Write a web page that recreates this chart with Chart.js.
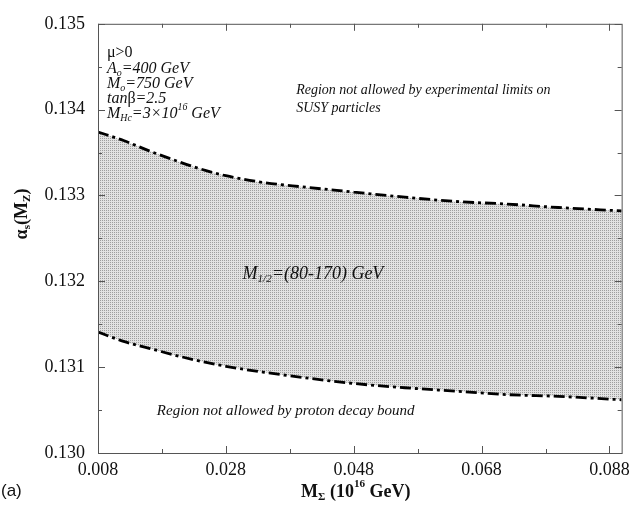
<!DOCTYPE html>
<html>
<head>
<meta charset="utf-8">
<script src="https://cdn.jsdelivr.net/npm/chart.js@4.4.1/dist/chart.umd.min.js"></script>
<style>
  html, body { margin: 0; padding: 0; background: #fff; }
  #c { display: block; }
</style>
</head>
<body>
<canvas id="c" width="636" height="515"></canvas>
<script>
// M_Sigma values (10^16 GeV)
const mSigma = [0.008, 0.012, 0.016, 0.020, 0.024, 0.028, 0.034, 0.040, 0.048, 0.056, 0.064, 0.072, 0.080, 0.0899];
// upper bound (experimental SUSY limits) and lower bound (proton decay)
const alphaUpper = [0.13374, 0.13364, 0.13352, 0.13341, 0.13331, 0.13323, 0.13315, 0.13310, 0.13304, 0.13298, 0.13293, 0.13290, 0.13286, 0.13282];
const alphaLower = [0.13141, 0.13130, 0.13122, 0.13114, 0.13107, 0.13101, 0.13094, 0.13088, 0.13081, 0.13076, 0.13072, 0.13068, 0.13066, 0.13062];

const xTicks = [0.008, 0.028, 0.048, 0.068, 0.088];
const xMinor = [0.018, 0.038, 0.058, 0.078];
const yTicks = [0.130, 0.131, 0.132, 0.133, 0.134, 0.135];
const yMinor = [0.1305, 0.1315, 0.1325, 0.1335, 0.1345];

const SERIF = '"Liberation Serif", "DejaVu Serif", serif';

// dotted grey for the allowed band
const makePattern = () => {
    const p = document.createElement('canvas');
    p.width = 2; p.height = 2;
    const g = p.getContext('2d');
    g.fillStyle = '#e2e2e2';
    g.fillRect(0, 0, 2, 2);
    g.fillStyle = '#9e9e9e';
    g.fillRect(0, 0, 1, 1);
    return document.getElementById('c').getContext('2d').createPattern(p, 'repeat');
};

// text with sub/superscripts: parts = [[text, kind], ...]
const drawRich = (ctx, x, y, parts, size, style) => {
    let cx = x;
    parts.forEach(([t, kind]) => {
        let s = size, dy = 0, st = style;
        if (kind === 'sub') { s = size * 0.62; dy = size * 0.28; }
        if (kind === 'sup') { s = size * 0.62; dy = -size * 0.42; }
        if (kind === 'up') st = 'normal';
        ctx.font = `${st} ${s}px ${SERIF}`;
        ctx.fillText(t, cx, y + dy);
        cx += ctx.measureText(t).width;
    });
    return cx - x;
};

const richWidth = (ctx, parts, size, style) => {
    let w = 0;
    parts.forEach(([t, kind]) => {
        const s = (kind === 'sub' || kind === 'sup') ? size * 0.62 : size;
        ctx.font = `${style} ${s}px ${SERIF}`;
        w += ctx.measureText(t).width;
    });
    return w;
};

// annotations, anchored in data coordinates
const notes = [
    { x: 0.0094, y: 0.13466, size: 16, style: 'normal', parts: [['μ>0', '']] },
    { x: 0.0094, y: 0.13448, size: 16, style: 'italic', parts: [['A', ''], ['o', 'sub'], ['=400 GeV', '']] },
    { x: 0.0094, y: 0.13430, size: 16, style: 'italic', parts: [['M', ''], ['o', 'sub'], ['=750 GeV', '']] },
    { x: 0.0094, y: 0.13413, size: 16, style: 'italic', parts: [['tan', ''], ['β', 'up'], ['=2.5', '']] },
    { x: 0.0094, y: 0.13395, size: 16, style: 'italic', parts: [['M', ''], ['Hc', 'sub'], ['=3×10', ''], ['16', 'sup'], [' GeV', '']] },
    { x: 0.0390, y: 0.13423, size: 14, style: 'italic', parts: [['Region not allowed by experimental limits on', '']] },
    { x: 0.0390, y: 0.13402, size: 14, style: 'italic', parts: [['SUSY particles', '']] },
    { x: 0.0306, y: 0.13208, size: 18, style: 'italic', parts: [['M', ''], ['1/2', 'sub'], ['=(80-170) GeV', '']] },
    { x: 0.0172, y: 0.13049, size: 15, style: 'italic', parts: [['Region not allowed by proton decay bound', '']] }
];

const framePlugin = {
    id: 'frame',
    afterDatasetsDraw(chart) {
        const { ctx, chartArea: a, scales: { x, y } } = chart;
        ctx.save();
        ctx.strokeStyle = '#555';
        ctx.lineWidth = 1;
        ctx.strokeRect(a.left + 0.5, a.top + 0.5, a.right - a.left, a.bottom - a.top);
        ctx.beginPath();
        const tickX = (v, len) => {
            const px = Math.round(x.getPixelForValue(v)) + 0.5;
            ctx.moveTo(px, a.bottom); ctx.lineTo(px, a.bottom - len);
            ctx.moveTo(px, a.top); ctx.lineTo(px, a.top + len);
        };
        const tickY = (v, len) => {
            const py = Math.round(y.getPixelForValue(v)) + 0.5;
            ctx.moveTo(a.left, py); ctx.lineTo(a.left + len, py);
            ctx.moveTo(a.right, py); ctx.lineTo(a.right - len, py);
        };
        xTicks.forEach(v => tickX(v, 7));
        xMinor.forEach(v => tickX(v, 4));
        yTicks.forEach(v => tickY(v, 7));
        yMinor.forEach(v => tickY(v, 4));
        ctx.stroke();
        ctx.restore();
    },
    afterDraw(chart) {
        const { ctx, chartArea: a, scales: { x, y } } = chart;
        ctx.save();
        ctx.fillStyle = '#111';
        ctx.textBaseline = 'middle';
        ctx.textAlign = 'left';
        notes.forEach(n => {
            drawRich(ctx, x.getPixelForValue(n.x), y.getPixelForValue(n.y), n.parts, n.size, n.style);
        });

        // x axis title
        const xt = [['M', ''], ['Σ', 'sub'], [' (10', ''], ['16', 'sup'], [' GeV)', '']];
        const xw = richWidth(ctx, xt, 18, 'bold');
        drawRich(ctx, (a.left + a.right) / 2 - xw / 2 - 4, 492, xt, 18, 'bold');

        // y axis title (rotated)
        const yt = [['α', ''], ['s', 'sub'], ['(M', ''], ['Z', 'sub'], [')', '']];
        const yw = richWidth(ctx, yt, 18, 'bold');
        ctx.save();
        ctx.translate(22, 214);
        ctx.rotate(-Math.PI / 2);
        drawRich(ctx, -yw / 2, 0, yt, 18, 'bold');
        ctx.restore();

        // panel tag
        ctx.font = '17px "Liberation Sans", Arial, sans-serif';
        ctx.fillText('(a)', 1, 491);
        ctx.restore();
    }
};

const ctx = document.getElementById('c').getContext('2d');
const lineStyle = {
    borderColor: '#000',
    borderWidth: 2.8,
    borderDash: [11, 4, 3, 4],
    pointRadius: 0,
    cubicInterpolationMode: 'monotone'
};

new Chart(ctx, {
    type: 'line',
    data: {
        datasets: [
            { ...lineStyle, label: 'lower', data: mSigma.map((m, i) => ({ x: m, y: alphaLower[i] })), fill: false },
            { ...lineStyle, label: 'upper', data: mSigma.map((m, i) => ({ x: m, y: alphaUpper[i] })), fill: { target: 0 }, backgroundColor: makePattern() }
        ]
    },
    options: {
        responsive: false,
        animation: false,
        devicePixelRatio: 1,
        layout: { padding: { top: 13, right: 11, left: 0, bottom: 0 } },
        plugins: { legend: { display: false }, tooltip: { enabled: false } },
        scales: {
            x: {
                type: 'linear',
                min: 0.008,
                max: 0.0899,
                afterBuildTicks: s => { s.ticks = xTicks.map(v => ({ value: v })); },
                afterFit: s => { s.height = 62; },
                grid: { display: false, drawTicks: false },
                border: { display: false },
                ticks: {
                    padding: 6,
                    maxRotation: 0,
                    autoSkip: false,
                    color: '#111',
                    font: { family: SERIF, size: 18 },
                    callback: v => v.toFixed(3)
                }
            },
            y: {
                type: 'linear',
                min: 0.130,
                max: 0.135,
                afterBuildTicks: s => { s.ticks = yTicks.map(v => ({ value: v })); },
                afterFit: s => { s.width = 98; },
                grid: { display: false, drawTicks: false },
                border: { display: false },
                ticks: {
                    padding: 13,
                    autoSkip: false,
                    color: '#111',
                    font: { family: SERIF, size: 18 },
                    callback: v => v.toFixed(3)
                }
            }
        }
    },
    plugins: [framePlugin]
});
</script>
</body>
</html>
